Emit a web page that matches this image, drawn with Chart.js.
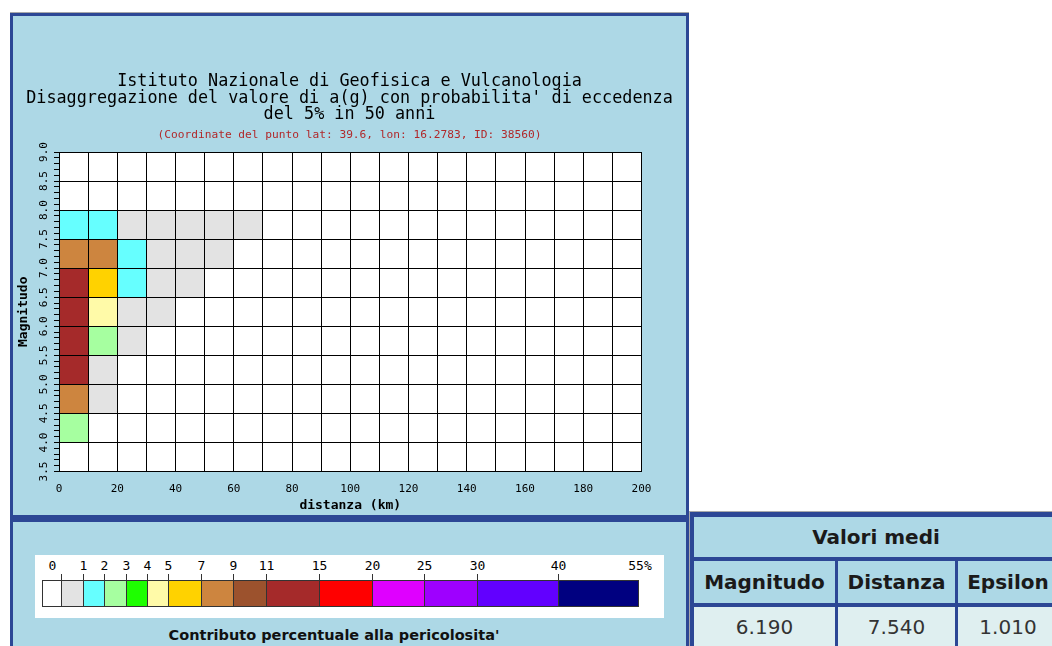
<!DOCTYPE html>
<html lang="it">
<head>
<meta charset="utf-8">
<title>Disaggregazione del valore di a(g)</title>
<script src="https://cdn.jsdelivr.net/npm/chart.js@4.4.1/dist/chart.umd.min.js"></script>
<style>
  html, body { margin: 0; padding: 0; background: #fff; }
  body { position: relative; width: 1052px; height: 646px; overflow: hidden; }
  .panel { position: absolute; box-sizing: border-box; background: #add8e6; border: 3px solid #2c4795; }
  #chartPanel { left: 10px; top: 13px; width: 679px; height: 505px; box-shadow: 0 -1px 0 #a9a9a9; }
  #chartPanel canvas { position: absolute; left: 0; top: 0; }
  #keyPanel { left: 10px; top: 518px; width: 679px; height: 200px; border-top-width: 4px; }
  #keyBox { position: absolute; left: 22px; top: 33px; width: 629px; height: 63px; background: #fff; }
  #keyBar { position: absolute; left: 7px; top: 25px; width: 597px; height: 27px; box-sizing: border-box; border: 1px solid #333; display: flex; }
  #keyBar div { box-sizing: border-box; height: 100%; border-right: 1px solid #333; flex: 0 0 auto; }
  #keyBar div:last-child { border-right: none; }
  .keyTick { position: absolute; top: 19px; width: 1px; height: 6px; background: #333; }
  .keyLabel { position: absolute; top: 3px; font: 13px "DejaVu Sans Mono", monospace; color: #000; transform: translateX(-50%); white-space: nowrap; line-height: 16px; }
  #keyCaption { position: absolute; left: 0; width: 642px; top: 105px; text-align: center; font: bold 14.5px "DejaVu Sans", sans-serif; color: #111; }
  #meanTable { position: absolute; left: 690px; top: 512px; width: 372px; height: 150px; background: #2c4795; box-shadow: -1px -1px 0 #a9a9a9; font-family: "DejaVu Sans", sans-serif; }
  #meanTable div { position: absolute; box-sizing: border-box; display: flex; align-items: center; justify-content: center; font-size: 20px; color: #1a1a1a; white-space: nowrap; }
  #meanTable .hd { background: #add8e6; font-weight: bold; }
  #meanTable .val { background: #dfeff0; color: #333; align-items: flex-start; padding-top: 8px; }
</style>
</head>
<body>
<div id="chartPanel" class="panel">
  <canvas id="disagg" width="673" height="499" style="width:673px;height:499px"></canvas>
</div>
<div id="keyPanel" class="panel">
  <div id="keyBox"><div id="keyBar"></div></div>
  <div id="keyCaption">Contributo percentuale alla pericolosita'</div>
</div>
<div id="meanTable"></div>

<script>
// ---- Griglia magnitudo / distanza (limite inferiore di ogni classe) ----
const MAG_STEP = 0.5;
const DIST_STEP = 10;
const magnitudeBins = [3.5, 4.0, 4.5, 5.0, 5.5, 6.0, 6.5, 7.0, 7.5, 8.0, 8.5];
const distanceBins = [0, 10, 20, 30, 40, 50, 60, 70, 80, 90, 100, 110, 120, 130, 140, 150, 160, 170, 180, 190];

// Contributo percentuale (%) per classe di distanza, una riga per classe di magnitudo
const contribM35 = [];
const contribM40 = [2.4];
const contribM45 = [8.1, 0.3];
const contribM50 = [11.7, 0.8];
const contribM55 = [12.9, 2.5, 0.3];
const contribM60 = [14.0, 4.4, 0.7, 0.2];
const contribM65 = [13.2, 5.8, 1.1, 0.4, 0.1];
const contribM70 = [7.9, 7.2, 1.4, 0.6, 0.3, 0.1];
const contribM75 = [1.6, 1.3, 0.5, 0.3, 0.2, 0.1, 0.05];
const contribM80 = [];
const contribM85 = [];

// Scala dei colori: soglie (%) ed etichette della legenda
const classLimits = [0, 1, 2, 3, 4, 5, 7, 9, 11, 15, 20, 25, 30, 40, 55];
const classColors = ['#ffffff', '#e3e3e3', '#66ffff', '#a6ffa0', '#1eff00', '#fffaa8', '#ffd200',
                     '#cd853f', '#9c522d', '#a52a2a', '#ff0000', '#df00ff', '#9e00ff', '#6200ff', '#000080'];

// Valori medi
const meanHeaders = ['Magnitudo', 'Distanza', 'Epsilon'];
const meanValues = [6.190, 7.540, 1.010];

// Titoli
const titleLines = [
  'Istituto Nazionale di Geofisica e Vulcanologia',
  "Disaggregazione del valore di a(g) con probabilita' di eccedenza",
  'del 5% in 50 anni'
];
const subtitleText = '(Coordinate del punto lat: 39.6, lon: 16.2783, ID: 38560)';

// ---- Layout (pixel) ----
const keySegmentWidths = [19, 22, 21, 22, 21, 21, 33, 32, 33, 53, 53, 52, 53, 81, 79];

// ---------------------------------------------------------------------
const contribRows = [contribM35, contribM40, contribM45, contribM50, contribM55, contribM60,
                     contribM65, contribM70, contribM75, contribM80, contribM85];

function classColor(v) {
  if (v <= 0) return classColors[0];
  for (let k = 1; k < classLimits.length; k++) {
    if (v <= classLimits[k]) return classColors[k];
  }
  return classColors[classColors.length - 1];
}

const cells = [];
magnitudeBins.forEach((m, i) => {
  distanceBins.forEach((d, j) => {
    cells.push({ x: d + DIST_STEP / 2, y: m + MAG_STEP / 2, v: contribRows[i][j] || 0 });
  });
});

const isHalf = v => Math.abs(v * 2 - Math.round(v * 2)) < 1e-6;

// Celle colorate disegnate sotto la griglia, tramite le scale del grafico
const cellPlugin = {
  id: 'disaggCells',
  beforeDraw(chart) {
    const { ctx, chartArea: a, scales: { x, y } } = chart;
    ctx.save();
    ctx.fillStyle = '#ffffff';
    ctx.fillRect(a.left, a.top, a.right - a.left, a.bottom - a.top);
    chart.data.datasets[0].data.forEach(c => {
      if (c.v <= 0) return;
      const x0 = x.getPixelForValue(c.x - DIST_STEP / 2);
      const x1 = x.getPixelForValue(c.x + DIST_STEP / 2);
      const y0 = y.getPixelForValue(c.y + MAG_STEP / 2);
      const y1 = y.getPixelForValue(c.y - MAG_STEP / 2);
      ctx.fillStyle = classColor(c.v);
      ctx.fillRect(x0, y0, x1 - x0, y1 - y0);
    });
    ctx.restore();
  }
};

Chart.defaults.font.family = '"DejaVu Sans Mono", monospace';
Chart.defaults.color = '#000';

new Chart(document.getElementById('disagg'), {
  type: 'scatter',
  data: {
    datasets: [{
      data: cells,
      pointRadius: 0,
      pointHoverRadius: 0,
      xAxisID: 'x',
      yAxisID: 'y'
    }]
  },
  options: {
    responsive: false,
    animation: false,
    devicePixelRatio: 1,
    events: [],
    layout: { padding: { left: 3, right: 3, top: 0, bottom: 0 } },
    plugins: {
      legend: { display: false },
      tooltip: { enabled: false },
      title: {
        display: true,
        text: titleLines,
        color: '#000',
        font: { size: 16.8, weight: 'normal', lineHeight: 16.5 / 16.8 },
        padding: { top: 57.5, bottom: 0 }
      },
      subtitle: {
        display: true,
        text: subtitleText,
        color: '#b0282a',
        font: { size: 11.2, weight: 'normal', lineHeight: 13 / 11.2 },
        padding: { top: 5.5, bottom: 10.5 }
      }
    },
    scales: {
      x: {
        type: 'linear',
        position: 'bottom',
        min: 0,
        max: 200,
        afterFit: s => { s.height = 43.5; },
        ticks: {
          stepSize: DIST_STEP,
          autoSkip: false,
          maxRotation: 0,
          padding: 11,
          color: '#000',
          font: { size: 11 },
          callback: v => (Math.round(v) % 20 === 0 ? String(Math.round(v)) : '')
        },
        grid: { color: '#000', lineWidth: 1, drawTicks: false },
        border: { color: '#000', width: 1 },
        title: {
          display: true,
          text: 'distanza (km)',
          color: '#000',
          font: { size: 13, weight: 'bold' },
          padding: { top: 0, bottom: 1.2 }
        }
      },
      y: {
        type: 'linear',
        position: 'left',
        min: 3.5,
        max: 9.0,
        afterFit: s => { s.width = 43; },
        ticks: {
          stepSize: 0.1,
          autoSkip: false,
          minRotation: 90,
          maxRotation: 90,
          crossAlign: 'center',
          padding: 0,
          color: '#000',
          font: { size: 11 },
          callback: v => (isHalf(v) ? v.toFixed(1) : '')
        },
        grid: {
          color: c => (c.tick && isHalf(c.tick.value) ? '#000' : 'rgba(0,0,0,0)'),
          tickColor: '#000',
          tickLength: 5,
          lineWidth: 1
        },
        border: { color: '#000', width: 1 },
        title: {
          display: true,
          text: 'Magnitudo',
          color: '#000',
          font: { size: 13, weight: 'bold' },
          padding: { top: 0, bottom: 0 }
        }
      },
      // spazio vuoto a destra, per centrare i titoli sul pannello
      yPad: {
        type: 'linear',
        position: 'right',
        display: true,
        afterFit: s => { s.width = 41.5; },
        grid: { display: false, drawTicks: false },
        border: { display: false },
        ticks: { display: false }
      }
    }
  },
  plugins: [cellPlugin]
});

// ---- Legenda dei colori ----
(function buildKey() {
  const box = document.getElementById('keyBox');
  const bar = document.getElementById('keyBar');
  const barInner = 8;
  let cum = 0;
  const ends = [];
  keySegmentWidths.forEach((w, k) => {
    const seg = document.createElement('div');
    seg.style.width = w + 'px';
    seg.style.background = classColors[k];
    bar.appendChild(seg);
    cum += w;
    ends.push(cum);
  });
  // trattini sui confini interni
  for (let k = 0; k < ends.length - 1; k++) {
    const t = document.createElement('div');
    t.className = 'keyTick';
    t.style.left = (barInner + ends[k] - 1) + 'px';
    box.appendChild(t);
  }
  // etichette
  classLimits.forEach((lim, k) => {
    const lab = document.createElement('div');
    lab.className = 'keyLabel';
    let x;
    if (k === 0) x = barInner + keySegmentWidths[0] / 2;
    else if (k === classLimits.length - 1) x = barInner + ends[ends.length - 1] + 2;
    else x = barInner + ends[k] - 0.5;
    lab.style.left = x + 'px';
    lab.textContent = (k === classLimits.length - 1) ? lim + '%' : String(lim);
    box.appendChild(lab);
  });
})();

// ---- Tabella dei valori medi ----
(function buildTable() {
  const t = document.getElementById('meanTable');
  const cols = [[4, 141], [148, 117], [268, 100]];
  const add = (cls, left, top, w, h, text) => {
    const d = document.createElement('div');
    d.className = cls;
    Object.assign(d.style, { left: left + 'px', top: top + 'px', width: w + 'px', height: h + 'px' });
    d.textContent = text;
    t.appendChild(d);
  };
  add('hd', 4, 5, 364, 40, 'Valori medi');
  meanHeaders.forEach((h, i) => add('hd', cols[i][0], 49, cols[i][1], 42, h));
  meanValues.forEach((v, i) => add('val', cols[i][0], 95, cols[i][1], 55, v.toFixed(3)));
})();
</script>
</body>
</html>
